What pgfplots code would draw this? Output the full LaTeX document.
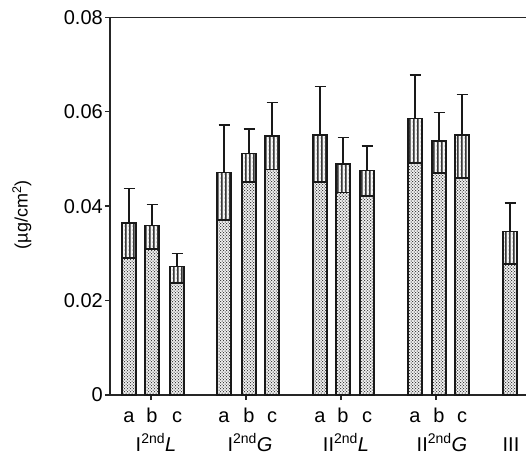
\documentclass[border=0pt]{standalone}
\usepackage{pgfplots}
\pgfplotsset{compat=1.18}
\usepackage{pgfplotstable}
\usepackage{fontspec}
\setmainfont{Liberation Sans}
\usetikzlibrary{patterns}

\pgfdeclarepatternformonly{vwavy}{\pgfqpoint{-0.5pt}{-0.5pt}}{\pgfqpoint{4.5pt}{4.5pt}}{\pgfqpoint{4pt}{4pt}}{
 \pgfsetlinewidth{0.8pt}
 \pgfpathmoveto{\pgfqpoint{1pt}{0pt}}
 \pgfpathlineto{\pgfqpoint{2.6pt}{1pt}}
 \pgfpathlineto{\pgfqpoint{1pt}{2pt}}
 \pgfpathlineto{\pgfqpoint{2.6pt}{3pt}}
 \pgfpathlineto{\pgfqpoint{1pt}{4pt}}
 \pgfusepath{stroke}
}
\pgfdeclarepatternformonly{densedots}{\pgfqpoint{-0.5pt}{-0.5pt}}{\pgfqpoint{3.5pt}{3.5pt}}{\pgfqpoint{3pt}{3pt}}{
 \pgfpathcircle{\pgfqpoint{0pt}{0pt}}{0.75pt}
 \pgfpathcircle{\pgfqpoint{1.5pt}{1.5pt}}{0.75pt}
 \pgfusepath{fill}
}

\pgfplotstableread{
x   total   split   err
129 0.0364  0.0290  0.0074
152 0.0359  0.0309  0.0044
177 0.0272  0.0237  0.0028
224 0.0471  0.0371  0.0101
249 0.0511  0.0451  0.0052
272 0.0549  0.0478  0.0071
320 0.0551  0.0451  0.0102
343 0.0489  0.0429  0.0057
367 0.0475  0.0422  0.0052
415 0.0586  0.0491  0.0092
439 0.0538  0.0470  0.0061
462 0.0551  0.0460  0.0085
510 0.0346  0.0277  0.0061
}\data

\begin{document}
\begin{tikzpicture}
\begin{axis}[
  scale only axis, width=430pt, height=377.7pt,
  xmin=110, xmax=540, ymin=0, ymax=0.08,
  scaled y ticks=false,
  ytick={0,0.02,0.04,0.06,0.08},
  yticklabels={0,0.02,0.04,0.06,0.08},
  xtick={151,246,341,436}, xticklabels={},
  tick align=outside, xtick pos=left, ytick pos=left,
  major tick length=5pt,
  axis line style={line width=1.4pt, black!85},
  tick style={line width=1.4pt, black!85},
  font=\fontsize{20}{24}\selectfont,
  /pgf/number format/assume math mode=true,
  yticklabel style={inner sep=2pt},
  ylabel={(µg/cm\textsuperscript{2})},
  ylabel style={at={(axis description cs:-0.205,0.477)}, anchor=center, font=\fontsize{18}{22}\selectfont},
  clip=false,
]
\addplot[ybar, bar width=14pt, bar shift=0pt, draw=black!90, line width=1.5pt,
  pattern=vwavy, pattern color=black!85,
  error bars/.cd, y dir=plus, y explicit,
  error bar style={line width=1.4pt, black!90},
  error mark options={rotate=90, mark size=5.5pt, line width=1.4pt, black!90}]
  table[x=x, y=total, y error=err]{\data};
\addplot[ybar, bar width=14pt, bar shift=0pt, draw=black!90, line width=1.5pt,
  preaction={fill=white}, pattern=densedots, pattern color=black!75]
  table[x=x, y=split]{\data};

\node[anchor=base, yshift=-27pt] at (129,0) {a};
\node[anchor=base, yshift=-27pt] at (152,0) {b};
\node[anchor=base, yshift=-27pt] at (177,0) {c};
\node[anchor=base, yshift=-27pt] at (224,0) {a};
\node[anchor=base, yshift=-27pt] at (249,0) {b};
\node[anchor=base, yshift=-27pt] at (272,0) {c};
\node[anchor=base, yshift=-27pt] at (320,0) {a};
\node[anchor=base, yshift=-27pt] at (343,0) {b};
\node[anchor=base, yshift=-27pt] at (367,0) {c};
\node[anchor=base, yshift=-27pt] at (415,0) {a};
\node[anchor=base, yshift=-27pt] at (439,0) {b};
\node[anchor=base, yshift=-27pt] at (462,0) {c};

\node[anchor=base, inner sep=0pt, yshift=-56pt] at (156,0) {I\textsuperscript{2nd}\textit{L}};
\node[anchor=base, inner sep=0pt, yshift=-56pt] at (250,0) {I\textsuperscript{2nd}\textit{G}};
\node[anchor=base, inner sep=0pt, yshift=-56pt] at (346,0) {II\textsuperscript{2nd}\textit{L}};
\node[anchor=base, inner sep=0pt, yshift=-56pt] at (442,0) {II\textsuperscript{2nd}\textit{G}};
\node[anchor=base, inner sep=0pt, yshift=-56pt] at (511,0) {III};
\end{axis}
\pgfresetboundingbox
\useasboundingbox (-110pt,-61pt) rectangle (416pt,395pt);
\end{tikzpicture}
\end{document}
